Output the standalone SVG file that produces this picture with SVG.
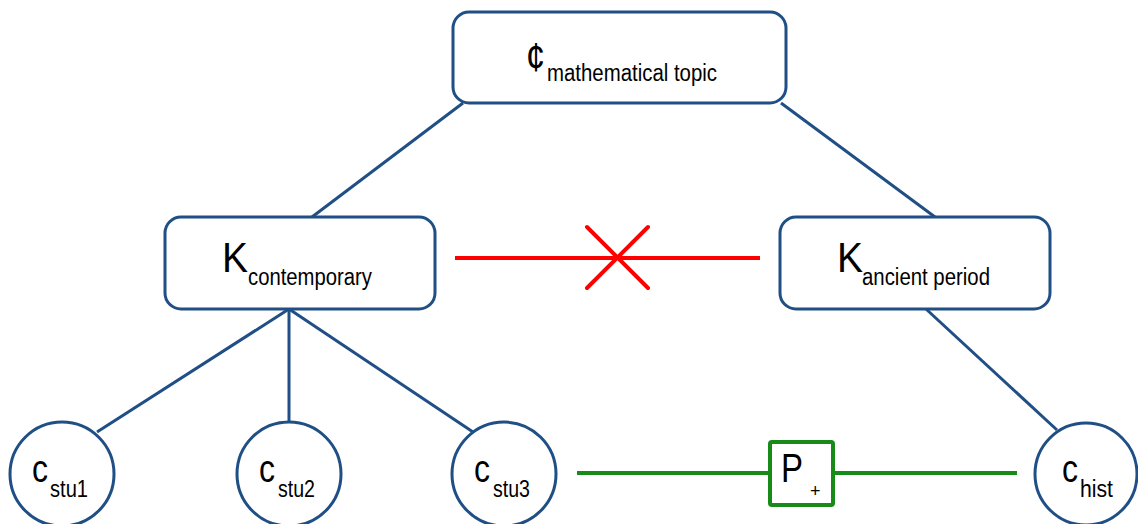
<svg xmlns="http://www.w3.org/2000/svg" width="1138" height="524" viewBox="0 0 1138 524">
<style>
.box{fill:#fff;stroke:#1f4f85;stroke-width:3}
.edge{stroke:#1f4f85;stroke-width:3;fill:none}
.t{font-family:"Liberation Sans",Arial,sans-serif;fill:#000}
.big{font-size:42px}
.sub{font-size:23px}
.cb{font-size:39px}
</style>
<rect width="1138" height="524" fill="#fff"/>
<g id="connectors">
<line class="edge" x1="463" y1="103" x2="312" y2="217"/>
<line class="edge" x1="781" y1="103" x2="935" y2="217"/>
<line class="edge" x1="289" y1="309" x2="97" y2="432"/>
<line class="edge" x1="289" y1="309" x2="289" y2="422"/>
<line class="edge" x1="289" y1="309" x2="473" y2="432"/>
<line class="edge" x1="926" y1="309" x2="1057" y2="430"/>
<g id="conflict" stroke="#ff0000" stroke-width="4" stroke-linecap="round">
<line x1="455" y1="258" x2="760" y2="258" stroke-linecap="butt"/>
<line x1="587" y1="227" x2="648" y2="288"/>
<line x1="648" y1="227" x2="587" y2="288"/>
</g>
<g id="support" stroke="#178a17" stroke-width="4">
<line x1="577" y1="473" x2="770" y2="473"/>
<line x1="833" y1="473" x2="1017" y2="473"/>
</g>
</g>
<g id="topic">
<rect class="box" x="453" y="12" width="333" height="91" rx="16"/>
<text class="t" x="526" y="71" font-size="40" textLength="19" lengthAdjust="spacingAndGlyphs">¢</text>
<text class="t sub" x="547" y="81" textLength="170" lengthAdjust="spacingAndGlyphs">mathematical topic</text>
</g>
<g id="k-contemporary">
<rect class="box" x="165" y="217" width="270" height="92" rx="16"/>
<text class="t big" x="222" y="272" textLength="26" lengthAdjust="spacingAndGlyphs">K</text>
<text class="t sub" x="248" y="285" textLength="124" lengthAdjust="spacingAndGlyphs">contemporary</text>
</g>
<g id="k-ancient">
<rect class="box" x="780" y="217" width="270" height="92" rx="16"/>
<text class="t big" x="837" y="272" textLength="26" lengthAdjust="spacingAndGlyphs">K</text>
<text class="t sub" x="862" y="285" textLength="128" lengthAdjust="spacingAndGlyphs">ancient period</text>
</g>
<g id="c-stu1">
<circle class="box" cx="62" cy="474" r="52"/>
<text class="t cb" x="32" y="482" textLength="16" lengthAdjust="spacingAndGlyphs">c</text>
<text class="t sub" x="50" y="497" textLength="38" lengthAdjust="spacingAndGlyphs">stu1</text>
</g>
<g id="c-stu2">
<circle class="box" cx="289" cy="474" r="52"/>
<text class="t cb" x="259" y="482" textLength="16" lengthAdjust="spacingAndGlyphs">c</text>
<text class="t sub" x="278" y="497" textLength="37" lengthAdjust="spacingAndGlyphs">stu2</text>
</g>
<g id="c-stu3">
<circle class="box" cx="504" cy="474" r="52"/>
<text class="t cb" x="474" y="482" textLength="16" lengthAdjust="spacingAndGlyphs">c</text>
<text class="t sub" x="493" y="497" textLength="37" lengthAdjust="spacingAndGlyphs">stu3</text>
</g>
<g id="c-hist">
<circle class="box" cx="1086" cy="474" r="51"/>
<text class="t cb" x="1062" y="482" textLength="16" lengthAdjust="spacingAndGlyphs">c</text>
<text class="t sub" x="1080" y="497" textLength="33" lengthAdjust="spacingAndGlyphs">hist</text>
</g>
<g id="p-plus">
<rect x="770" y="442" width="63" height="63" rx="2" fill="#fff" stroke="#178a17" stroke-width="4"/>
<text class="t" x="781" y="482" font-size="40" textLength="22" lengthAdjust="spacingAndGlyphs">P</text>
<text class="t" x="810" y="497" font-size="18">+</text>
</g>
</svg>
